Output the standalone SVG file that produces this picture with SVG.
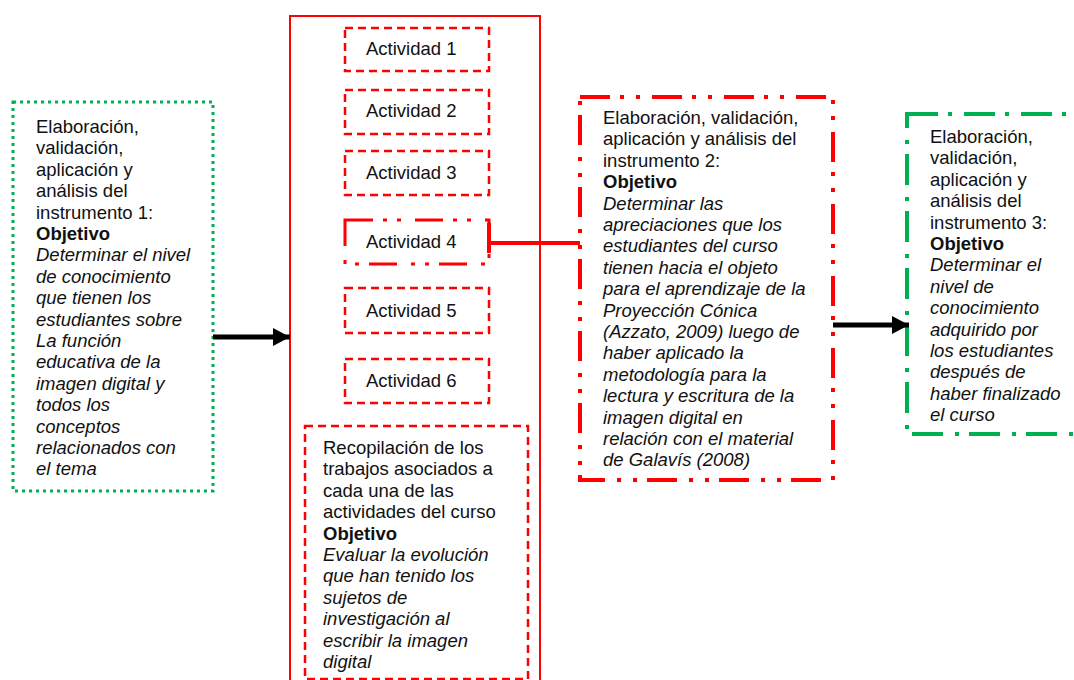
<svg xmlns="http://www.w3.org/2000/svg" width="1074" height="680" viewBox="0 0 1074 680">
<defs>
<style>
text{font-family:"Liberation Sans",Arial,sans-serif;font-size:18.5px;fill:#111}
.b{font-weight:bold}
.i{font-style:italic}
.box{fill:#fff}
.g1{stroke:#00B050;stroke-width:3;stroke-dasharray:3 4}
.g3{stroke:#00B050;stroke-width:4;stroke-dasharray:31 10 4 12}
.outer{stroke:#FF0000;stroke-width:2;fill:none}
.dash{stroke:#FF0000;stroke-width:2.5;stroke-dasharray:8 5}
.dd4{stroke:#FF0000;stroke-width:3;stroke-dasharray:28 10 4 10 4 14}
.dd2{stroke:#FF0000;stroke-width:4;stroke-dasharray:30 10 4 12 4 12}
.arr{stroke:#000;stroke-width:5;fill:none}
.red{stroke:#FF0000;stroke-width:4;fill:none}
</style>
<marker id="ah" markerUnits="userSpaceOnUse" markerWidth="18" markerHeight="20" refX="17" refY="9" orient="auto">
<path d="M0,0 L17,9 L0,18 Z" fill="#000"/>
</marker>
</defs>

<g id="outer-box"><rect class="outer" x="290" y="16" width="250" height="700"/></g>

<g id="instrumento1">
<rect class="box g1" x="13" y="102" width="200" height="389"/>
<text x="36" y="133">Elaboración,</text>
<text x="36" y="154.4">validación,</text>
<text x="36" y="175.8">aplicación y</text>
<text x="36" y="197.2">análisis del</text>
<text x="36" y="218.6">instrumento 1:</text>
<text x="36" y="240" class="b">Objetivo</text>
<text x="36" y="261.4" class="i">Determinar el nivel</text>
<text x="36" y="282.8" class="i">de conocimiento</text>
<text x="36" y="304.2" class="i">que tienen los</text>
<text x="36" y="325.6" class="i">estudiantes sobre</text>
<text x="36" y="347" class="i">La función</text>
<text x="36" y="368.4" class="i">educativa de la</text>
<text x="36" y="389.8" class="i">imagen digital y</text>
<text x="36" y="411.2" class="i">todos los</text>
<text x="36" y="432.6" class="i">conceptos</text>
<text x="36" y="454" class="i">relacionados con</text>
<text x="36" y="475.4" class="i">el tema</text>
</g>

<g id="actividad1"><rect class="box dash" x="345" y="28" width="144" height="43"/><text x="366" y="55">Actividad 1</text></g>
<g id="actividad2"><rect class="box dash" x="345" y="90" width="144" height="44"/><text x="366" y="117">Actividad 2</text></g>
<g id="actividad3"><rect class="box dash" x="345" y="151" width="144" height="44"/><text x="366" y="179">Actividad 3</text></g>
<g id="actividad4"><rect class="box dd4" x="345" y="220" width="144" height="44"/><text x="366" y="248">Actividad 4</text></g>
<g id="actividad5"><rect class="box dash" x="345" y="288" width="144" height="45"/><text x="366" y="317">Actividad 5</text></g>
<g id="actividad6"><rect class="box dash" x="345" y="359" width="144" height="44"/><text x="366" y="387">Actividad 6</text></g>

<g id="recopilacion">
<rect class="box dash" x="305" y="426" width="223" height="253"/>
<text x="323" y="454">Recopilación de los</text>
<text x="323" y="475.4">trabajos asociados a</text>
<text x="323" y="496.8">cada una de las</text>
<text x="323" y="518.2">actividades del curso</text>
<text x="323" y="539.6" class="b">Objetivo</text>
<text x="323" y="561" class="i">Evaluar la evolución</text>
<text x="323" y="582.4" class="i">que han tenido los</text>
<text x="323" y="603.8" class="i">sujetos de</text>
<text x="323" y="625.2" class="i">investigación al</text>
<text x="323" y="646.6" class="i">escribir la imagen</text>
<text x="323" y="668" class="i">digital</text>
</g>

<g id="instrumento2">
<rect class="box dd2" x="580" y="97" width="253" height="383"/>
<text x="603" y="124">Elaboración, validación,</text>
<text x="603" y="145.4">aplicación y análisis del</text>
<text x="603" y="166.8">instrumento 2:</text>
<text x="603" y="188.2" class="b">Objetivo</text>
<text x="603" y="209.6" class="i">Determinar las</text>
<text x="603" y="231" class="i">apreciaciones que los</text>
<text x="603" y="252.4" class="i">estudiantes del curso</text>
<text x="603" y="273.8" class="i">tienen hacia el objeto</text>
<text x="603" y="295.2" class="i">para el aprendizaje de la</text>
<text x="603" y="316.6" class="i">Proyección Cónica</text>
<text x="603" y="338" class="i">(Azzato, 2009) luego de</text>
<text x="603" y="359.4" class="i">haber aplicado la</text>
<text x="603" y="380.8" class="i">metodología para la</text>
<text x="603" y="402.2" class="i">lectura y escritura de la</text>
<text x="603" y="423.6" class="i">imagen digital en</text>
<text x="603" y="445" class="i">relación con el material</text>
<text x="603" y="466.4" class="i">de Galavís (2008)</text>
<rect x="580" y="97" width="253" height="383" fill="none" class="dd2"/>
</g>

<g id="instrumento3">
<rect class="box g3" x="907" y="114" width="200" height="320"/>
<text x="930" y="143">Elaboración,</text>
<text x="930" y="164.4">validación,</text>
<text x="930" y="185.8">aplicación y</text>
<text x="930" y="207.2">análisis del</text>
<text x="930" y="228.6">instrumento 3:</text>
<text x="930" y="250" class="b">Objetivo</text>
<text x="930" y="271.4" class="i">Determinar el</text>
<text x="930" y="292.8" class="i">nivel de</text>
<text x="930" y="314.2" class="i">conocimiento</text>
<text x="930" y="335.6" class="i">adquirido por</text>
<text x="930" y="357" class="i">los estudiantes</text>
<text x="930" y="378.4" class="i">después de</text>
<text x="930" y="399.8" class="i">haber finalizado</text>
<text x="930" y="421.2" class="i">el curso</text>
</g>

<g id="connectors">
<line class="arr" x1="213" y1="337" x2="290" y2="337" marker-end="url(#ah)" style="stroke-dasharray:0 0;stroke-width:5"/>
<line class="arr" x1="833" y1="325" x2="909" y2="325" marker-end="url(#ah)"/>
<line class="red" x1="489" y1="243" x2="580" y2="243"/>
<line class="red" x1="489" y1="223" x2="489" y2="253"/>
</g>
</svg>
